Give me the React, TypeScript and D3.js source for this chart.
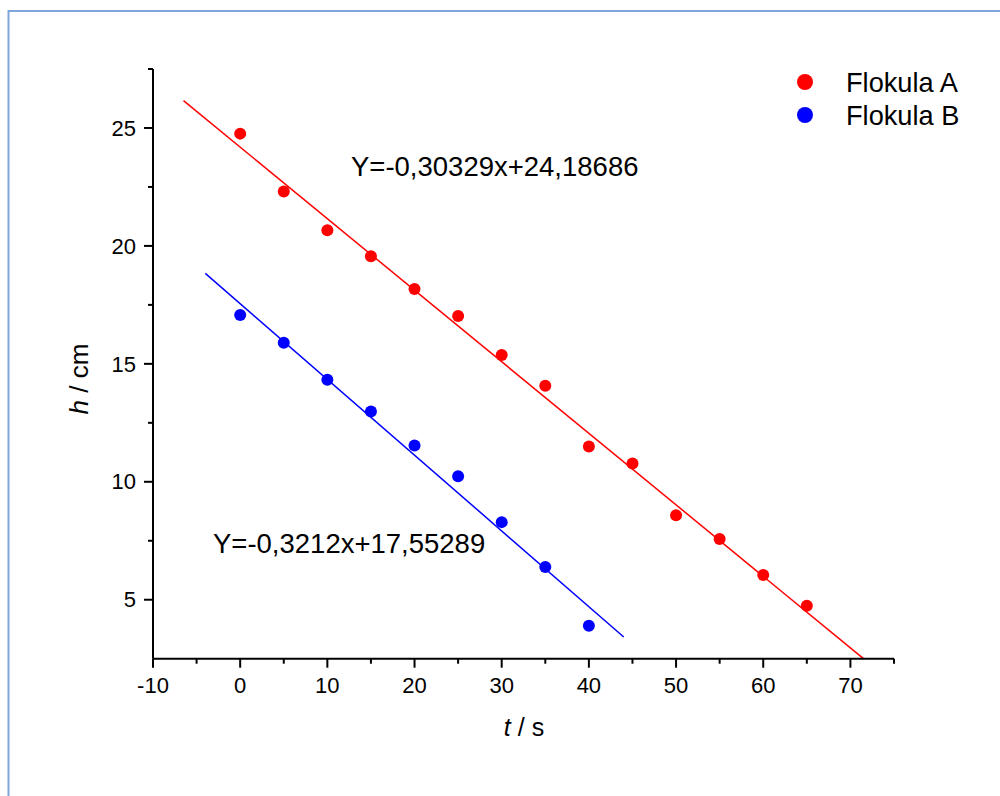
import { useEffect } from "react";
import * as d3 from "d3";

const WIDTH = 1000;
const HEIGHT = 796;
const FONT = "'Liberation Sans', Arial, sans-serif";

// Flokula A
const timeA = [0, 5, 10, 15, 20, 25, 30, 35, 40, 45, 50, 55, 60, 65];
const heightA = [24.76, 22.31, 20.66, 19.56, 18.17, 17.03, 15.38, 14.07, 11.5, 10.78, 8.58, 7.57, 6.05, 4.74];

// Flokula B
const timeB = [0, 5, 10, 15, 20, 25, 30, 35, 40];
const heightB = [17.07, 15.89, 14.33, 12.98, 11.54, 10.23, 8.29, 6.39, 3.9];

const seriesNames = ["Flokula A", "Flokula B"];
const seriesColors = ["#ff0000", "#0000ff"];
const fitSlopes = [-0.30329, -0.3212];
const fitIntercepts = [24.18686, 17.55289];
const fitLabels = ["Y=-0,30329x+24,18686", "Y=-0,3212x+17,55289"];

const xMajorTicks = [-10, 0, 10, 20, 30, 40, 50, 60, 70];
const xMinorTicks = [-5, 5, 15, 25, 35, 45, 55, 65, 75];
const yMajorTicks = [5, 10, 15, 20, 25];
const yMinorTicks = [7.5, 12.5, 17.5, 22.5, 27.5];

const x = d3.scaleLinear().domain([-10, 75]).range([153, 894]);
const y = d3.scaleLinear().domain([2.5, 27.5]).range([658.7, 69]);

const series = [
  { t: timeA, h: heightA },
  { t: timeB, h: heightB },
];

// fit line spans the data range extended by 10% on each side
function fitPoints(i: number): [number, number][] {
  const [t0, t1] = d3.extent(series[i].t) as [number, number];
  const pad = (t1 - t0) * 0.1;
  return [t0 - pad, t1 + pad].map((t) => [t, fitSlopes[i] * t + fitIntercepts[i]] as [number, number]);
}

const line = d3
  .line<[number, number]>()
  .x((d) => x(d[0]))
  .y((d) => y(d[1]));

export default function App() {
  useEffect(() => {
    document.body.style.margin = "0";
  }, []);

  const x0 = x.range()[0];
  const y0 = y.range()[0];

  return (
    <svg width={WIDTH} height={HEIGHT} style={{ display: "block", fontFamily: FONT }}>
      <rect x={0} y={0} width={WIDTH} height={HEIGHT} fill="#ffffff" />
      <rect x={8.5} y={11} width={WIDTH + 20} height={HEIGHT + 20} fill="none" stroke="#7ea6dc" strokeWidth={2} />

      {/* fit lines */}
      {series.map((_, i) => (
        <path key={`fit-${i}`} d={line(fitPoints(i)) ?? ""} fill="none" stroke={seriesColors[i]} strokeWidth={1.5} />
      ))}

      {/* points */}
      {series.map((s, i) =>
        s.t.map((t, j) => (
          <circle key={`pt-${i}-${j}`} cx={x(t)} cy={y(s.h[j])} r={6} fill={seriesColors[i]} />
        )),
      )}

      {/* axes */}
      <g stroke="#000" strokeWidth={2} fill="none">
        <line x1={x0} x2={x0} y1={y.range()[1]} y2={y0} />
        <line x1={x0} x2={x.range()[1]} y1={y0} y2={y0} />
        {xMajorTicks.map((t) => (
          <line key={`xM${t}`} x1={x(t)} x2={x(t)} y1={y0} y2={y0 + 9} />
        ))}
        {xMinorTicks.map((t) => (
          <line key={`xm${t}`} x1={x(t)} x2={x(t)} y1={y0} y2={y0 + 5} />
        ))}
        {yMajorTicks.map((v) => (
          <line key={`yM${v}`} x1={x0 - 9} x2={x0} y1={y(v)} y2={y(v)} />
        ))}
        {yMinorTicks.map((v) => (
          <line key={`ym${v}`} x1={x0 - 5} x2={x0} y1={y(v)} y2={y(v)} />
        ))}
      </g>
      <g fontSize={22} fill="#000">
        {xMajorTicks.map((t) => (
          <text key={`xl${t}`} x={x(t)} y={y0 + 34} textAnchor="middle">
            {t}
          </text>
        ))}
        {yMajorTicks.map((v) => (
          <text key={`yl${v}`} x={x0 - 17} y={y(v)} dy="0.35em" textAnchor="end">
            {v}
          </text>
        ))}
      </g>

      {/* axis titles */}
      <text x={524} y={736} fontSize={25} textAnchor="middle" fill="#000">
        <tspan fontStyle="italic">t</tspan> / s
      </text>
      <text transform="translate(88,379) rotate(-90)" fontSize={26} textAnchor="middle" fill="#000">
        <tspan fontStyle="italic">h</tspan> / cm
      </text>

      {/* fit equations */}
      <text x={351} y={176} fontSize={27.5} fill="#000">
        {fitLabels[0]}
      </text>
      <text x={213} y={553} fontSize={27.5} fill="#000">
        {fitLabels[1]}
      </text>

      {/* legend */}
      {seriesNames.map((name, i) => (
        <g key={name} transform={`translate(805,${82 + i * 33})`}>
          <circle r={8} fill={seriesColors[i]} />
          <text x={41} y={0} dy="0.35em" fontSize={27.2} fill="#000">
            {name}
          </text>
        </g>
      ))}
    </svg>
  );
}
